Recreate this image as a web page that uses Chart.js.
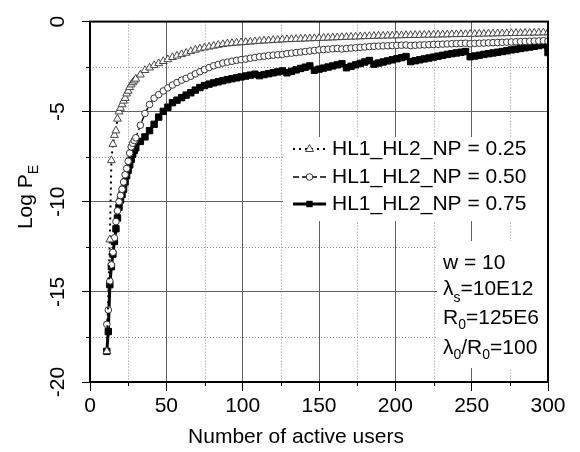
<!DOCTYPE html>
<html>
<head>
<meta charset="utf-8">
<script src="https://cdn.jsdelivr.net/npm/chart.js@4.4.0/dist/chart.umd.min.js"></script>
<style>
  html, body { margin: 0; padding: 0; background: #fff; }
  #wrap { width: 580px; height: 452px; }
</style>
</head>
<body>
<div id="wrap"><canvas id="chart"></canvas></div>
<script>
// number of active users (x values shared by all three curves)
const users = [
  11, 12, 13, 14, 15, 16, 17, 18, 19, 20,
  21, 22, 23, 24, 25, 26, 27, 28, 29, 30,
  33, 36, 39, 42, 45, 48, 51, 54, 57, 60,
  63, 66, 69, 72, 75, 78, 81, 84, 87, 90,
  93, 96, 99, 102, 105, 108, 111, 114, 117, 120,
  123, 126, 129, 132, 135, 138, 141, 144, 147, 150,
  153, 156, 159, 162, 165, 168, 171, 174, 177, 180,
  183, 186, 189, 192, 195, 198, 201, 204, 207, 210,
  213, 216, 219, 222, 225, 228, 231, 234, 237, 240,
  243, 246, 249, 252, 255, 258, 261, 264, 267, 270,
  273, 276, 279, 282, 285, 288, 291, 294, 297, 300
];

// Log P_E, HL1_HL2_NP = 0.25
const np25 = [
  -18.3, null, -12.1, -7.7, -6.8, -6.3, -6.05, -5.4, -5.0, -4.8,
  -4.6, -4.4, -4.25, -4.0, -3.85, -3.65, -3.5, -3.38, -3.28, -3.18,
  -2.95, -2.7, -2.56, -2.43, -2.32, -2.2, -2.1, -1.98, -1.9, -1.82,
  -1.74, -1.65, -1.57, -1.5, -1.45, -1.4, -1.35, -1.3, -1.26, -1.22,
  -1.2, -1.18, -1.16, -1.14, -1.12, -1.1, -1.08, -1.06, -1.05, -1.03,
  -1.02, -1.0, -0.99, -0.98, -0.97, -0.96, -0.95, -0.94, -0.93, -0.92,
  -0.91, -0.9, -0.89, -0.88, -0.87, -0.86, -0.85, -0.84, -0.83, -0.82,
  -0.81, -0.8, -0.79, -0.79, -0.78, -0.78, -0.77, -0.77, -0.76, -0.76,
  -0.75, -0.75, -0.74, -0.74, -0.73, -0.73, -0.72, -0.72, -0.71, -0.71,
  -0.7, -0.7, -0.69, -0.69, -0.68, -0.68, -0.67, -0.67, -0.66, -0.66,
  -0.65, -0.65, -0.64, -0.64, -0.63, -0.63, -0.62, -0.62, -0.61, -0.61
];

// Log P_E, HL1_HL2_NP = 0.50
const np50 = [
  -16.8, -16.0, -14.4, -13.5, -12.8, -12.0, -11.1, -10.5, -10.0, -9.65,
  -9.3, -8.9, -8.5, -8.15, -7.75, -7.3, -6.95, -6.75, -6.6, -6.45,
  -5.75, -5.1, -4.6, -4.25, -4.05, -3.85, -3.68, -3.52, -3.38, -3.25,
  -3.15, -3.03, -2.9, -2.78, -2.66, -2.55, -2.45, -2.38, -2.3, -2.25,
  -2.2, -2.15, -2.11, -2.08, -2.03, -1.99, -1.95, -1.92, -1.89, -1.86,
  -1.84, -1.82, -1.78, -1.75, -1.72, -1.69, -1.66, -1.63, -1.6, -1.57,
  -1.55, -1.53, -1.51, -1.49, -1.52, -1.49, -1.47, -1.45, -1.43, -1.41,
  -1.39, -1.37, -1.36, -1.35, -1.34, -1.33, -1.32, -1.31, -1.3, -1.33,
  -1.31, -1.3, -1.29, -1.28, -1.27, -1.26, -1.25, -1.24, -1.23, -1.22,
  -1.21, -1.2, -1.23, -1.21, -1.2, -1.19, -1.18, -1.17, -1.16, -1.15,
  -1.14, -1.13, -1.12, -1.11, -1.1, -1.09, -1.08, -1.07, -1.06, -1.08
];

// Log P_E, HL1_HL2_NP = 0.75
const np75 = [
  -18.3, -17.2, -14.6, -13.6, -12.9, -12.2, -11.5, -10.9, -10.3, -9.9,
  -9.6, -9.3, -8.9, -8.55, -8.25, -7.95, -7.65, -7.35, -7.15, -7.0,
  -6.65, -6.4, -6.05, -5.7, -5.3, -4.98, -4.75, -4.5, -4.36, -4.22,
  -4.08, -3.95, -3.8, -3.66, -3.55, -3.47, -3.4, -3.34, -3.28, -3.22,
  -3.17, -3.12, -3.07, -3.02, -2.97, -2.92, -3.0, -2.94, -2.89, -2.84,
  -2.79, -2.74, -2.84, -2.76, -2.68, -2.6, -2.53, -2.46, -2.7, -2.64,
  -2.58, -2.52, -2.46, -2.4, -2.34, -2.56, -2.48, -2.4, -2.32, -2.24,
  -2.16, -2.36, -2.3, -2.24, -2.18, -2.12, -2.06, -2.0, -1.94, -2.22,
  -2.17, -2.12, -2.07, -2.02, -1.97, -1.92, -1.87, -1.82, -1.78, -1.74,
  -1.7, -1.66, -1.95, -1.91, -1.87, -1.82, -1.78, -1.74, -1.7, -1.66,
  -1.62, -1.57, -1.53, -1.49, -1.45, -1.41, -1.37, -1.33, -1.28, -1.72
];

const seriesLabels = ['HL1_HL2_NP = 0.25', 'HL1_HL2_NP = 0.50', 'HL1_HL2_NP = 0.75'];
const xMinorTicks = [25, 75, 125, 175, 225, 275];
const yMinorTicks = [-2.5, -7.5, -12.5, -17.5];

const FONT = "'Liberation Sans', Arial, Helvetica, sans-serif";

function toPoints(ys) {
  return users.map((u, i) => ({ x: u, y: ys[i] }));
}

function drawMarker(ctx, style, x, y) {
  ctx.save();
  ctx.setLineDash([]);
  ctx.lineWidth = 1;
  ctx.beginPath();
  if (style === 'triangle') {
    ctx.moveTo(x, y - 4.5);
    ctx.lineTo(x + 4, y + 2.5);
    ctx.lineTo(x - 4, y + 2.5);
    ctx.closePath();
    ctx.fillStyle = '#fff'; ctx.strokeStyle = '#444';
    ctx.fill(); ctx.stroke();
  } else if (style === 'circle') {
    ctx.arc(x, y, 3.3, 0, Math.PI * 2);
    ctx.fillStyle = '#fff'; ctx.strokeStyle = '#333';
    ctx.fill(); ctx.stroke();
  } else {
    ctx.rect(x - 3.2, y - 3.2, 6.4, 6.4);
    ctx.fillStyle = '#000';
    ctx.fill();
  }
  ctx.restore();
}

// text with subscripts, left aligned, vertically centred on y
function drawRich(ctx, parts, x, y, size, subSize, subShift) {
  let cx = x;
  parts.forEach(p => {
    ctx.font = (p.sub ? subSize : size) + 'px ' + FONT;
    ctx.fillText(p.t, cx, p.sub ? y + subShift : y);
    cx += ctx.measureText(p.t).width;
  });
}

const decor = {
  id: 'decor',
  beforeDatasetsDraw(chart) {
    const { ctx, chartArea: a, scales: { x, y } } = chart;
    ctx.save();
    // dotted minor grid
    ctx.strokeStyle = '#8c8c8c';
    ctx.lineWidth = 1;
    ctx.setLineDash([1, 2]);
    xMinorTicks.forEach(v => {
      const px = Math.round(x.getPixelForValue(v)) + 0.5;
      ctx.beginPath(); ctx.moveTo(px, a.top); ctx.lineTo(px, a.bottom); ctx.stroke();
    });
    yMinorTicks.forEach(v => {
      const py = Math.round(y.getPixelForValue(v)) + 0.5;
      ctx.beginPath(); ctx.moveTo(a.left, py); ctx.lineTo(a.right, py); ctx.stroke();
    });
    ctx.setLineDash([]);
    // minor tick marks (outside)
    ctx.strokeStyle = '#000';
    xMinorTicks.forEach(v => {
      const px = Math.round(x.getPixelForValue(v)) + 0.5;
      ctx.beginPath(); ctx.moveTo(px, a.bottom); ctx.lineTo(px, a.bottom + 4); ctx.stroke();
    });
    yMinorTicks.forEach(v => {
      const py = Math.round(y.getPixelForValue(v)) + 0.5;
      ctx.beginPath(); ctx.moveTo(a.left - 4, py); ctx.lineTo(a.left, py); ctx.stroke();
    });
    // white panels behind legend and parameter text
    ctx.fillStyle = '#fff';
    ctx.fillRect(283, 137, a.right - 284, 84);
    ctx.fillRect(437, 241, a.right - 438, 127);
    ctx.restore();
  },
  afterDraw(chart) {
    const { ctx, chartArea: a } = chart;
    ctx.save();
    // frame
    ctx.strokeStyle = '#000';
    ctx.lineWidth = 2;
    ctx.strokeRect(a.left, a.top, a.right - a.left, a.bottom - a.top);

    ctx.fillStyle = '#000';
    ctx.textBaseline = 'middle';

    // legend
    const rowsY = [149, 177, 204];
    const styles = ['triangle', 'circle', 'rect'];
    chart.data.datasets.forEach((ds, i) => {
      const ry = rowsY[i];
      ctx.strokeStyle = '#000';
      ctx.lineWidth = ds.borderWidth;
      ctx.setLineDash(ds.borderDash || []);
      ctx.beginPath(); ctx.moveTo(293, ry); ctx.lineTo(326, ry); ctx.stroke();
      ctx.setLineDash([]);
      drawMarker(ctx, styles[i], 309.5, ry);
      ctx.fillStyle = '#000';
      ctx.textAlign = 'left';
      ctx.font = '21px ' + FONT;
      ctx.fillText(seriesLabels[i], 332, ry);
    });

    // parameters
    ctx.textAlign = 'left';
    drawRich(ctx, [{ t: 'w = 10' }], 443, 263.5, 21, 14, 8);
    drawRich(ctx, [{ t: 'λ' }, { t: 's', sub: 1 }, { t: '=10E12' }], 443, 289.5, 21, 14, 9);
    drawRich(ctx, [{ t: 'R' }, { t: '0', sub: 1 }, { t: '=125E6' }], 443, 318, 21, 14, 7);
    drawRich(ctx, [{ t: 'λ' }, { t: '0', sub: 1 }, { t: '/R' }, { t: '0', sub: 1 }, { t: '=100' }], 443, 348.5, 21, 14, 7);

    // x axis title
    ctx.textAlign = 'center';
    ctx.font = '21px ' + FONT;
    ctx.fillText('Number of active users', 296, 437);

    // y axis title, rotated, with subscript E
    ctx.translate(26, 196);
    ctx.rotate(-Math.PI / 2);
    ctx.font = '21px ' + FONT;
    const wMain = ctx.measureText('Log P').width;
    ctx.font = '14px ' + FONT;
    const wSub = ctx.measureText('E').width;
    ctx.textAlign = 'left';
    drawRich(ctx, [{ t: 'Log P' }, { t: 'E', sub: 1 }], -(wMain + wSub + 2) / 2, 0, 21, 14, 8);
    ctx.restore();
  }
};

new Chart(document.getElementById('chart'), {
  type: 'line',
  data: {
    datasets: [
      {
        label: seriesLabels[0],
        data: toPoints(np25),
        borderColor: '#000',
        borderWidth: 2,
        borderDash: [2, 4],
        pointStyle: 'triangle',
        pointRadius: 4.5,
        pointBackgroundColor: '#fff',
        pointBorderColor: '#444',
        pointBorderWidth: 1
      },
      {
        label: seriesLabels[1],
        data: toPoints(np50),
        borderColor: '#000',
        borderWidth: 1.5,
        borderDash: [6, 3],
        pointStyle: 'circle',
        pointRadius: 3.3,
        pointBackgroundColor: '#fff',
        pointBorderColor: '#333',
        pointBorderWidth: 1
      },
      {
        label: seriesLabels[2],
        data: toPoints(np75),
        borderColor: '#000',
        borderWidth: 3,
        pointStyle: 'rect',
        pointRadius: 4.5,
        pointBackgroundColor: '#000',
        pointBorderColor: '#000',
        pointBorderWidth: 1
      }
    ]
  },
  options: {
    responsive: true,
    maintainAspectRatio: false,
    animation: false,
    spanGaps: true,
    layout: { padding: { top: 9, right: 32, left: 0, bottom: 0 } },
    plugins: {
      legend: { display: false },
      tooltip: { enabled: false }
    },
    elements: { line: { tension: 0 } },
    scales: {
      x: {
        type: 'linear',
        min: 0,
        max: 300,
        afterFit: s => { s.height = 70; },
        ticks: {
          stepSize: 50,
          padding: 3,
          color: '#000',
          font: { family: FONT, size: 21 }
        },
        grid: {
          color: '#606060',
          lineWidth: 1,
          tickColor: '#000',
          tickLength: 9,
          tickWidth: 1
        },
        border: { color: '#000', width: 2 }
      },
      y: {
        min: -20,
        max: 0,
        afterFit: s => { s.width = 90; },
        ticks: {
          stepSize: 5,
          minRotation: 90,
          maxRotation: 90,
          crossAlign: 'center',
          padding: 9,
          color: '#000',
          font: { family: FONT, size: 21 }
        },
        grid: {
          color: '#606060',
          lineWidth: 1,
          tickColor: '#000',
          tickLength: 8,
          tickWidth: 1
        },
        border: { color: '#000', width: 2 }
      }
    }
  },
  plugins: [decor]
});
</script>
</body>
</html>
